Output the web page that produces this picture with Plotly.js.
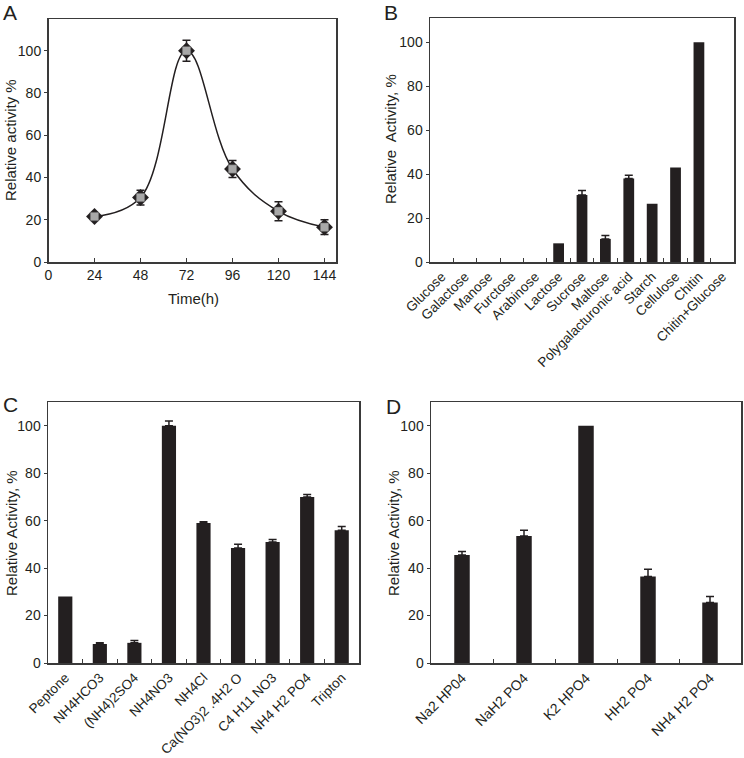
<!DOCTYPE html>
<html>
<head>
<meta charset="utf-8">
<script src="https://cdn.plot.ly/plotly-3.0.1.min.js"></script>
<style>html,body{margin:0;padding:0;background:#fff;}#chart{width:744px;height:758px;}</style>
</head>
<body>
<div id="chart"></div>
<script>
// Panel A: time course
const timeH = [24, 48, 72, 96, 120, 144];
const timeActivity = [21.5, 30.5, 100, 44, 24, 16.5];
const timeErr = [1.5, 3.5, 5, 4, 4.5, 3.5];
const timeTicks = [0, 24, 48, 72, 96, 120, 144];

// Panel B: carbon sources (NaN = no error bar shown)
const carbonSources = ['Glucose', 'Galactose', 'Manose', 'Furctose', 'Arabinose', 'Lactose', 'Sucrose', 'Maltose', 'Polygalacturonic acid', 'Starch', 'Cellulose', 'Chitin', 'Chitin+Glucose'];
const carbonActivity = [0, 0, 0, 0, 0, 8.5, 30.5, 10.5, 38, 26.5, 43, 100, 0];
const carbonErr = [NaN, NaN, NaN, NaN, NaN, NaN, 2, 1.5, 1.5, NaN, NaN, NaN, NaN];

// Panel C: nitrogen sources
const nitrogenSources = ['Peptone', 'NH4HCO3', '(NH4)2SO4', 'NH4NO3', 'NH4Cl', 'Ca(NO3)2 .4H2 O', 'C4 H11 NO3', 'NH4 H2 PO4', 'Tripton'];
const nitrogenActivity = [28, 8, 8.5, 100, 59, 48.5, 51, 70, 56];
const nitrogenErr = [NaN, 0.5, 1, 2, 0.5, 1.5, 1, 1, 1.5];

// Panel D: phosphate sources
const phosphateSources = ['Na2 HP04', 'NaH2 PO4', 'K2 HPO4', 'HH2 PO4', 'NH4 H2 PO4'];
const phosphateActivity = [45.5, 53.5, 100, 36.5, 25.5];
const phosphateErr = [1.5, 2.5, NaN, 3, 2.5];

const W = 744, H = 758;
const px = v => v / W;
const py = v => 1 - v / H;
const FONT = 'Liberation Sans, Arial, Helvetica, sans-serif';
const INK = '#231f20';
const LINE = '#3a3a3a';

function errUp(arr) {
  return {type: 'data', symmetric: false, array: arr, arrayminus: arr.map(v => (isNaN(v) ? NaN : 0)),
          color: INK, thickness: 1.5, width: 4};
}

const traces = [
  {x: timeH, y: timeActivity, xaxis: 'x', yaxis: 'y', type: 'scatter', mode: 'lines',
   line: {shape: 'spline', smoothing: 1.1, color: INK, width: 1.5}, hoverinfo: 'skip'},
  {x: timeH, y: timeActivity, xaxis: 'x', yaxis: 'y', type: 'scatter', mode: 'markers',
   marker: {symbol: 'diamond', size: 13, color: INK},
   error_y: {type: 'data', array: timeErr, color: INK, thickness: 1.5, width: 4}},
  {x: timeH, y: timeActivity, xaxis: 'x', yaxis: 'y', type: 'scatter', mode: 'markers',
   marker: {symbol: 'square', size: 8.5, color: '#a8a8a8', line: {color: '#555', width: 0.5}}},
  {x: carbonSources, y: carbonActivity, xaxis: 'x2', yaxis: 'y2', type: 'bar', width: 0.46,
   marker: {color: INK, line: {width: 0}}, error_y: errUp(carbonErr)},
  {x: nitrogenSources, y: nitrogenActivity, xaxis: 'x3', yaxis: 'y3', type: 'bar', width: 0.41,
   marker: {color: INK, line: {width: 0}}, error_y: errUp(nitrogenErr)},
  {x: phosphateSources, y: phosphateActivity, xaxis: 'x4', yaxis: 'y4', type: 'bar', width: 0.25,
   marker: {color: INK, line: {width: 0}}, error_y: errUp(phosphateErr)}
];

function yax(domain, range, anchor) {
  return {domain: domain, range: range, anchor: anchor, showgrid: false, zeroline: false,
    showline: true, mirror: true, linecolor: LINE, linewidth: 1.5,
    ticks: 'outside', ticklen: 3, tickwidth: 1, tickcolor: LINE,
    tickvals: [0, 20, 40, 60, 80, 100], tickfont: {family: FONT, size: 14, color: INK}, automargin: false};
}
function xcat(domain, anchor, size) {
  return {domain: domain, anchor: anchor, type: 'category', showgrid: false, zeroline: false,
    showline: true, mirror: true, linecolor: LINE, linewidth: 1.5,
    ticks: 'inside', ticklen: 4, tickwidth: 1, tickcolor: LINE, tickson: 'boundaries',
    tickangle: -45, tickfont: {family: FONT, size: size, color: INK}, automargin: false};
}
function ann(text, x, y, size, angle) {
  return {text: text, x: px(x), y: py(y), xref: 'paper', yref: 'paper', xanchor: 'center', yanchor: 'middle',
    textangle: angle || 0, showarrow: false, font: {family: FONT, size: size, color: INK}};
}

const layout = {
  width: W, height: H, margin: {l: 0, r: 0, t: 0, b: 0, autoexpand: false},
  paper_bgcolor: '#fff', plot_bgcolor: '#fff', showlegend: false,
  font: {family: FONT, color: INK},
  xaxis: {domain: [px(48.5), px(336)], anchor: 'y', range: [0, 150], tickvals: timeTicks,
    showgrid: false, zeroline: false, showline: true, mirror: true, linecolor: LINE, linewidth: 1.5,
    ticks: 'inside', ticklen: 4, tickwidth: 1, tickcolor: LINE,
    tickfont: {family: FONT, size: 14, color: INK}, automargin: false},
  yaxis: yax([py(262), py(19)], [0, 115], 'x'),
  xaxis2: xcat([px(430), px(734)], 'y2', 13.5),
  yaxis2: yax([py(262), py(18)], [0, 111], 'x2'),
  xaxis3: xcat([px(48), px(359)], 'y3', 13.5),
  yaxis3: yax([py(663), py(402)], [0, 110], 'x3'),
  xaxis4: xcat([px(431), px(741)], 'y4', 14),
  yaxis4: yax([py(663), py(402)], [0, 110], 'x4'),
  annotations: [
    ann('A', 10, 13, 21),
    ann('B', 391, 13, 21),
    ann('C', 10, 404, 21),
    ann('D', 393, 406, 21),
    ann('Relative activity %', 11, 140, 15, -90),
    ann('Time(h)', 193, 298, 15),
    ann('Relative  Activity, %', 391, 139, 15, -90),
    ann('Relative Activity, %', 11, 533, 15, -90),
    ann('Relative Activity, %', 393, 533, 15, -90)
  ]
};

Plotly.newPlot('chart', traces, layout, {staticPlot: true, displayModeBar: false});
</script>
</body>
</html>
